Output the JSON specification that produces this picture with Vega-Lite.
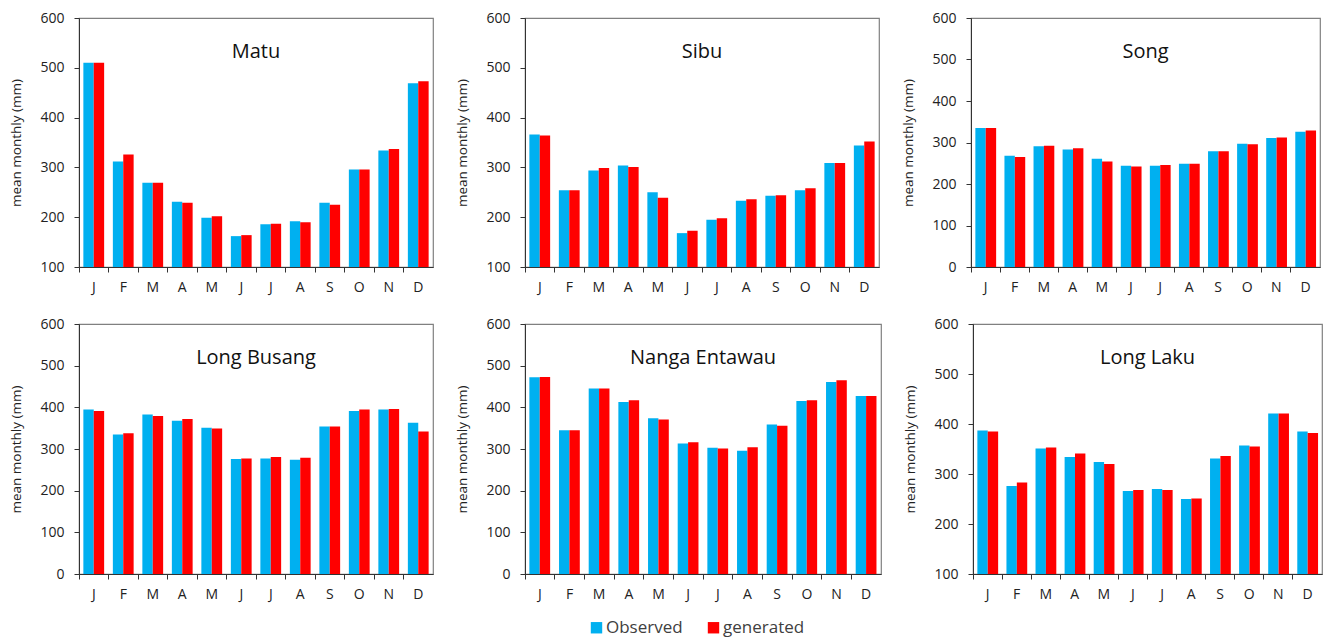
{
  "$schema": "https://vega.github.io/schema/vega-lite/v6.json",
  "padding": {"left": 8, "top": 10, "right": 5, "bottom": 2},
  "background": "white",
  "spacing": 18,
  "config": {
    "font": "Open Sans",
    "view": {"stroke": "#808080", "strokeWidth": 1.2},
    "axis": {"labelFont": "Open Sans", "titleFont": "Open Sans", "labelColor": "#222", "titleColor": "#222", "domainColor": "#333", "tickColor": "#333", "grid": false},
    "title": {"font": "Open Sans", "fontSize": 20, "fontWeight": "normal", "color": "#111", "anchor": "middle", "offset": -51}
  },
  "data": {"values": [
    {"station":"Matu","month":"Jan","series":"Observed","value":510},
    {"station":"Matu","month":"Jan","series":"generated","value":510},
    {"station":"Matu","month":"Feb","series":"Observed","value":312},
    {"station":"Matu","month":"Feb","series":"generated","value":326},
    {"station":"Matu","month":"Mar","series":"Observed","value":269},
    {"station":"Matu","month":"Mar","series":"generated","value":269},
    {"station":"Matu","month":"Apr","series":"Observed","value":231},
    {"station":"Matu","month":"Apr","series":"generated","value":229},
    {"station":"Matu","month":"May","series":"Observed","value":199},
    {"station":"Matu","month":"May","series":"generated","value":202},
    {"station":"Matu","month":"Jun","series":"Observed","value":162},
    {"station":"Matu","month":"Jun","series":"generated","value":164},
    {"station":"Matu","month":"Jul","series":"Observed","value":186},
    {"station":"Matu","month":"Jul","series":"generated","value":187},
    {"station":"Matu","month":"Aug","series":"Observed","value":192},
    {"station":"Matu","month":"Aug","series":"generated","value":190},
    {"station":"Matu","month":"Sep","series":"Observed","value":229},
    {"station":"Matu","month":"Sep","series":"generated","value":225},
    {"station":"Matu","month":"Oct","series":"Observed","value":296},
    {"station":"Matu","month":"Oct","series":"generated","value":296},
    {"station":"Matu","month":"Nov","series":"Observed","value":334},
    {"station":"Matu","month":"Nov","series":"generated","value":337},
    {"station":"Matu","month":"Dec","series":"Observed","value":469},
    {"station":"Matu","month":"Dec","series":"generated","value":473},
    {"station":"Sibu","month":"Jan","series":"Observed","value":366},
    {"station":"Sibu","month":"Jan","series":"generated","value":364},
    {"station":"Sibu","month":"Feb","series":"Observed","value":254},
    {"station":"Sibu","month":"Feb","series":"generated","value":254},
    {"station":"Sibu","month":"Mar","series":"Observed","value":294},
    {"station":"Sibu","month":"Mar","series":"generated","value":299},
    {"station":"Sibu","month":"Apr","series":"Observed","value":304},
    {"station":"Sibu","month":"Apr","series":"generated","value":301},
    {"station":"Sibu","month":"May","series":"Observed","value":250},
    {"station":"Sibu","month":"May","series":"generated","value":239},
    {"station":"Sibu","month":"Jun","series":"Observed","value":168},
    {"station":"Sibu","month":"Jun","series":"generated","value":173},
    {"station":"Sibu","month":"Jul","series":"Observed","value":195},
    {"station":"Sibu","month":"Jul","series":"generated","value":198},
    {"station":"Sibu","month":"Aug","series":"Observed","value":233},
    {"station":"Sibu","month":"Aug","series":"generated","value":236},
    {"station":"Sibu","month":"Sep","series":"Observed","value":243},
    {"station":"Sibu","month":"Sep","series":"generated","value":244},
    {"station":"Sibu","month":"Oct","series":"Observed","value":254},
    {"station":"Sibu","month":"Oct","series":"generated","value":258},
    {"station":"Sibu","month":"Nov","series":"Observed","value":309},
    {"station":"Sibu","month":"Nov","series":"generated","value":309},
    {"station":"Sibu","month":"Dec","series":"Observed","value":344},
    {"station":"Sibu","month":"Dec","series":"generated","value":352},
    {"station":"Song","month":"Jan","series":"Observed","value":335},
    {"station":"Song","month":"Jan","series":"generated","value":335},
    {"station":"Song","month":"Feb","series":"Observed","value":268},
    {"station":"Song","month":"Feb","series":"generated","value":265},
    {"station":"Song","month":"Mar","series":"Observed","value":291},
    {"station":"Song","month":"Mar","series":"generated","value":292},
    {"station":"Song","month":"Apr","series":"Observed","value":283},
    {"station":"Song","month":"Apr","series":"generated","value":286},
    {"station":"Song","month":"May","series":"Observed","value":261},
    {"station":"Song","month":"May","series":"generated","value":254},
    {"station":"Song","month":"Jun","series":"Observed","value":244},
    {"station":"Song","month":"Jun","series":"generated","value":242},
    {"station":"Song","month":"Jul","series":"Observed","value":244},
    {"station":"Song","month":"Jul","series":"generated","value":246},
    {"station":"Song","month":"Aug","series":"Observed","value":249},
    {"station":"Song","month":"Aug","series":"generated","value":249},
    {"station":"Song","month":"Sep","series":"Observed","value":279},
    {"station":"Song","month":"Sep","series":"generated","value":279},
    {"station":"Song","month":"Oct","series":"Observed","value":297},
    {"station":"Song","month":"Oct","series":"generated","value":296},
    {"station":"Song","month":"Nov","series":"Observed","value":311},
    {"station":"Song","month":"Nov","series":"generated","value":312},
    {"station":"Song","month":"Dec","series":"Observed","value":326},
    {"station":"Song","month":"Dec","series":"generated","value":329},
    {"station":"Long Busang","month":"Jan","series":"Observed","value":395},
    {"station":"Long Busang","month":"Jan","series":"generated","value":391},
    {"station":"Long Busang","month":"Feb","series":"Observed","value":335},
    {"station":"Long Busang","month":"Feb","series":"generated","value":338},
    {"station":"Long Busang","month":"Mar","series":"Observed","value":383},
    {"station":"Long Busang","month":"Mar","series":"generated","value":379},
    {"station":"Long Busang","month":"Apr","series":"Observed","value":368},
    {"station":"Long Busang","month":"Apr","series":"generated","value":372},
    {"station":"Long Busang","month":"May","series":"Observed","value":351},
    {"station":"Long Busang","month":"May","series":"generated","value":349},
    {"station":"Long Busang","month":"Jun","series":"Observed","value":276},
    {"station":"Long Busang","month":"Jun","series":"generated","value":277},
    {"station":"Long Busang","month":"Jul","series":"Observed","value":277},
    {"station":"Long Busang","month":"Jul","series":"generated","value":281},
    {"station":"Long Busang","month":"Aug","series":"Observed","value":274},
    {"station":"Long Busang","month":"Aug","series":"generated","value":279},
    {"station":"Long Busang","month":"Sep","series":"Observed","value":354},
    {"station":"Long Busang","month":"Sep","series":"generated","value":354},
    {"station":"Long Busang","month":"Oct","series":"Observed","value":391},
    {"station":"Long Busang","month":"Oct","series":"generated","value":395},
    {"station":"Long Busang","month":"Nov","series":"Observed","value":395},
    {"station":"Long Busang","month":"Nov","series":"generated","value":396},
    {"station":"Long Busang","month":"Dec","series":"Observed","value":363},
    {"station":"Long Busang","month":"Dec","series":"generated","value":342},
    {"station":"Nanga Entawau","month":"Jan","series":"Observed","value":472},
    {"station":"Nanga Entawau","month":"Jan","series":"generated","value":473},
    {"station":"Nanga Entawau","month":"Feb","series":"Observed","value":345},
    {"station":"Nanga Entawau","month":"Feb","series":"generated","value":345},
    {"station":"Nanga Entawau","month":"Mar","series":"Observed","value":445},
    {"station":"Nanga Entawau","month":"Mar","series":"generated","value":445},
    {"station":"Nanga Entawau","month":"Apr","series":"Observed","value":413},
    {"station":"Nanga Entawau","month":"Apr","series":"generated","value":417},
    {"station":"Nanga Entawau","month":"May","series":"Observed","value":374},
    {"station":"Nanga Entawau","month":"May","series":"generated","value":371},
    {"station":"Nanga Entawau","month":"Jun","series":"Observed","value":313},
    {"station":"Nanga Entawau","month":"Jun","series":"generated","value":316},
    {"station":"Nanga Entawau","month":"Jul","series":"Observed","value":303},
    {"station":"Nanga Entawau","month":"Jul","series":"generated","value":301},
    {"station":"Nanga Entawau","month":"Aug","series":"Observed","value":296},
    {"station":"Nanga Entawau","month":"Aug","series":"generated","value":304},
    {"station":"Nanga Entawau","month":"Sep","series":"Observed","value":359},
    {"station":"Nanga Entawau","month":"Sep","series":"generated","value":356},
    {"station":"Nanga Entawau","month":"Oct","series":"Observed","value":415},
    {"station":"Nanga Entawau","month":"Oct","series":"generated","value":417},
    {"station":"Nanga Entawau","month":"Nov","series":"Observed","value":461},
    {"station":"Nanga Entawau","month":"Nov","series":"generated","value":465},
    {"station":"Nanga Entawau","month":"Dec","series":"Observed","value":427},
    {"station":"Nanga Entawau","month":"Dec","series":"generated","value":427},
    {"station":"Long Laku","month":"Jan","series":"Observed","value":387},
    {"station":"Long Laku","month":"Jan","series":"generated","value":385},
    {"station":"Long Laku","month":"Feb","series":"Observed","value":276},
    {"station":"Long Laku","month":"Feb","series":"generated","value":283},
    {"station":"Long Laku","month":"Mar","series":"Observed","value":351},
    {"station":"Long Laku","month":"Mar","series":"generated","value":353},
    {"station":"Long Laku","month":"Apr","series":"Observed","value":334},
    {"station":"Long Laku","month":"Apr","series":"generated","value":341},
    {"station":"Long Laku","month":"May","series":"Observed","value":324},
    {"station":"Long Laku","month":"May","series":"generated","value":320},
    {"station":"Long Laku","month":"Jun","series":"Observed","value":266},
    {"station":"Long Laku","month":"Jun","series":"generated","value":268},
    {"station":"Long Laku","month":"Jul","series":"Observed","value":270},
    {"station":"Long Laku","month":"Jul","series":"generated","value":268},
    {"station":"Long Laku","month":"Aug","series":"Observed","value":250},
    {"station":"Long Laku","month":"Aug","series":"generated","value":251},
    {"station":"Long Laku","month":"Sep","series":"Observed","value":331},
    {"station":"Long Laku","month":"Sep","series":"generated","value":336},
    {"station":"Long Laku","month":"Oct","series":"Observed","value":357},
    {"station":"Long Laku","month":"Oct","series":"generated","value":355},
    {"station":"Long Laku","month":"Nov","series":"Observed","value":421},
    {"station":"Long Laku","month":"Nov","series":"generated","value":421},
    {"station":"Long Laku","month":"Dec","series":"Observed","value":385},
    {"station":"Long Laku","month":"Dec","series":"generated","value":382}
  ]},
  "resolve": {"scale": {"color": "shared"}, "legend": {"color": "shared"}},
  "vconcat": [
    {"spacing": 20, "hconcat": [
      {"title": "Matu", "width": 354, "height": 249, "transform": [{"filter": "datum.station === 'Matu'"}], "mark": {"type": "bar", "clip": true},
       "encoding": {
        "x": {"field": "month", "type": "nominal", "sort": ["Jan","Feb","Mar","Apr","May","Jun","Jul","Aug","Sep","Oct","Nov","Dec"], "scale": {"paddingInner": 0, "paddingOuter": 0}, "axis": {"title": null, "labelAngle": 0, "labelExpr": "substring(datum.label,0,1)", "labelFontSize": 14, "tickSize": 5, "labelPadding": 8, "bandPosition": 0, "minExtent": 30, "maxExtent": 30}},
        "xOffset": {"field": "series", "type": "nominal", "sort": ["Observed","generated"], "scale": {"paddingInner": 0, "paddingOuter": 0.42}},
        "y": {"field": "value", "type": "quantitative", "scale": {"domain": [100, 600], "nice": false, "zero": false}, "axis": {"title": "mean monthly (mm)", "values": [100,200,300,400,500,600], "labelFontSize": 14, "titleFontSize": 13.5, "titleFontWeight": "normal", "tickSize": 5, "labelPadding": 10, "titlePadding": 14, "minExtent": 42, "maxExtent": 42}},
        "color": {"field": "series", "type": "nominal", "sort": ["Observed","generated"], "scale": {"domain": ["Observed","generated"], "range": ["#00B0F0","#FF0000"]}, "legend": {"title": null, "orient": "none", "direction": "horizontal", "legendX": 509, "legendY": 601, "symbolType": "square", "symbolSize": 130, "symbolStrokeWidth": 0, "labelFontSize": 17, "labelColor": "#404040", "columnPadding": 22, "labelOffset": 1}}
       }},
      {"title": "Sibu", "width": 354, "height": 249, "transform": [{"filter": "datum.station === 'Sibu'"}], "mark": {"type": "bar", "clip": true},
       "encoding": {
        "x": {"field": "month", "type": "nominal", "sort": ["Jan","Feb","Mar","Apr","May","Jun","Jul","Aug","Sep","Oct","Nov","Dec"], "scale": {"paddingInner": 0, "paddingOuter": 0}, "axis": {"title": null, "labelAngle": 0, "labelExpr": "substring(datum.label,0,1)", "labelFontSize": 14, "tickSize": 5, "labelPadding": 8, "bandPosition": 0, "minExtent": 30, "maxExtent": 30}},
        "xOffset": {"field": "series", "type": "nominal", "sort": ["Observed","generated"], "scale": {"paddingInner": 0, "paddingOuter": 0.42}},
        "y": {"field": "value", "type": "quantitative", "scale": {"domain": [100, 600], "nice": false, "zero": false}, "axis": {"title": "mean monthly (mm)", "values": [100,200,300,400,500,600], "labelFontSize": 14, "titleFontSize": 13.5, "titleFontWeight": "normal", "tickSize": 5, "labelPadding": 10, "titlePadding": 14, "minExtent": 42, "maxExtent": 42}},
        "color": {"field": "series", "type": "nominal", "sort": ["Observed","generated"]}
       }},
      {"title": "Song", "width": 349, "height": 249, "transform": [{"filter": "datum.station === 'Song'"}], "mark": {"type": "bar", "clip": true},
       "encoding": {
        "x": {"field": "month", "type": "nominal", "sort": ["Jan","Feb","Mar","Apr","May","Jun","Jul","Aug","Sep","Oct","Nov","Dec"], "scale": {"paddingInner": 0, "paddingOuter": 0}, "axis": {"title": null, "labelAngle": 0, "labelExpr": "substring(datum.label,0,1)", "labelFontSize": 14, "tickSize": 5, "labelPadding": 8, "bandPosition": 0, "minExtent": 30, "maxExtent": 30}},
        "xOffset": {"field": "series", "type": "nominal", "sort": ["Observed","generated"], "scale": {"paddingInner": 0, "paddingOuter": 0.42}},
        "y": {"field": "value", "type": "quantitative", "scale": {"domain": [0, 600], "nice": false}, "axis": {"title": "mean monthly (mm)", "values": [0,100,200,300,400,500,600], "labelFontSize": 14, "titleFontSize": 13.5, "titleFontWeight": "normal", "tickSize": 5, "labelPadding": 10, "titlePadding": 14, "minExtent": 42, "maxExtent": 42}},
        "color": {"field": "series", "type": "nominal", "sort": ["Observed","generated"]}
       }}
    ]},
    {"spacing": 20, "hconcat": [
      {"title": "Long Busang", "width": 354, "height": 250, "transform": [{"filter": "datum.station === 'Long Busang'"}], "mark": {"type": "bar", "clip": true},
       "encoding": {
        "x": {"field": "month", "type": "nominal", "sort": ["Jan","Feb","Mar","Apr","May","Jun","Jul","Aug","Sep","Oct","Nov","Dec"], "scale": {"paddingInner": 0, "paddingOuter": 0}, "axis": {"title": null, "labelAngle": 0, "labelExpr": "substring(datum.label,0,1)", "labelFontSize": 14, "tickSize": 5, "labelPadding": 8, "bandPosition": 0, "minExtent": 30, "maxExtent": 30}},
        "xOffset": {"field": "series", "type": "nominal", "sort": ["Observed","generated"], "scale": {"paddingInner": 0, "paddingOuter": 0.42}},
        "y": {"field": "value", "type": "quantitative", "scale": {"domain": [0, 600], "nice": false}, "axis": {"title": "mean monthly (mm)", "values": [0,100,200,300,400,500,600], "labelFontSize": 14, "titleFontSize": 13.5, "titleFontWeight": "normal", "tickSize": 5, "labelPadding": 10, "titlePadding": 14, "minExtent": 42, "maxExtent": 42}},
        "color": {"field": "series", "type": "nominal", "sort": ["Observed","generated"]}
       }},
      {"title": "Nanga Entawau", "width": 356, "height": 250, "transform": [{"filter": "datum.station === 'Nanga Entawau'"}], "mark": {"type": "bar", "clip": true},
       "encoding": {
        "x": {"field": "month", "type": "nominal", "sort": ["Jan","Feb","Mar","Apr","May","Jun","Jul","Aug","Sep","Oct","Nov","Dec"], "scale": {"paddingInner": 0, "paddingOuter": 0}, "axis": {"title": null, "labelAngle": 0, "labelExpr": "substring(datum.label,0,1)", "labelFontSize": 14, "tickSize": 5, "labelPadding": 8, "bandPosition": 0, "minExtent": 30, "maxExtent": 30}},
        "xOffset": {"field": "series", "type": "nominal", "sort": ["Observed","generated"], "scale": {"paddingInner": 0, "paddingOuter": 0.42}},
        "y": {"field": "value", "type": "quantitative", "scale": {"domain": [0, 600], "nice": false}, "axis": {"title": "mean monthly (mm)", "values": [0,100,200,300,400,500,600], "labelFontSize": 14, "titleFontSize": 13.5, "titleFontWeight": "normal", "tickSize": 5, "labelPadding": 10, "titlePadding": 14, "minExtent": 42, "maxExtent": 42}},
        "color": {"field": "series", "type": "nominal", "sort": ["Observed","generated"]}
       }},
      {"title": "Long Laku", "width": 349, "height": 250, "transform": [{"filter": "datum.station === 'Long Laku'"}], "mark": {"type": "bar", "clip": true},
       "encoding": {
        "x": {"field": "month", "type": "nominal", "sort": ["Jan","Feb","Mar","Apr","May","Jun","Jul","Aug","Sep","Oct","Nov","Dec"], "scale": {"paddingInner": 0, "paddingOuter": 0}, "axis": {"title": null, "labelAngle": 0, "labelExpr": "substring(datum.label,0,1)", "labelFontSize": 14, "tickSize": 5, "labelPadding": 8, "bandPosition": 0, "minExtent": 30, "maxExtent": 30}},
        "xOffset": {"field": "series", "type": "nominal", "sort": ["Observed","generated"], "scale": {"paddingInner": 0, "paddingOuter": 0.42}},
        "y": {"field": "value", "type": "quantitative", "scale": {"domain": [100, 600], "nice": false, "zero": false}, "axis": {"title": "mean monthly (mm)", "values": [100,200,300,400,500,600], "labelFontSize": 14, "titleFontSize": 13.5, "titleFontWeight": "normal", "tickSize": 5, "labelPadding": 10, "titlePadding": 14, "minExtent": 42, "maxExtent": 42}},
        "color": {"field": "series", "type": "nominal", "sort": ["Observed","generated"]}
       }}
    ]}
  ]
}
